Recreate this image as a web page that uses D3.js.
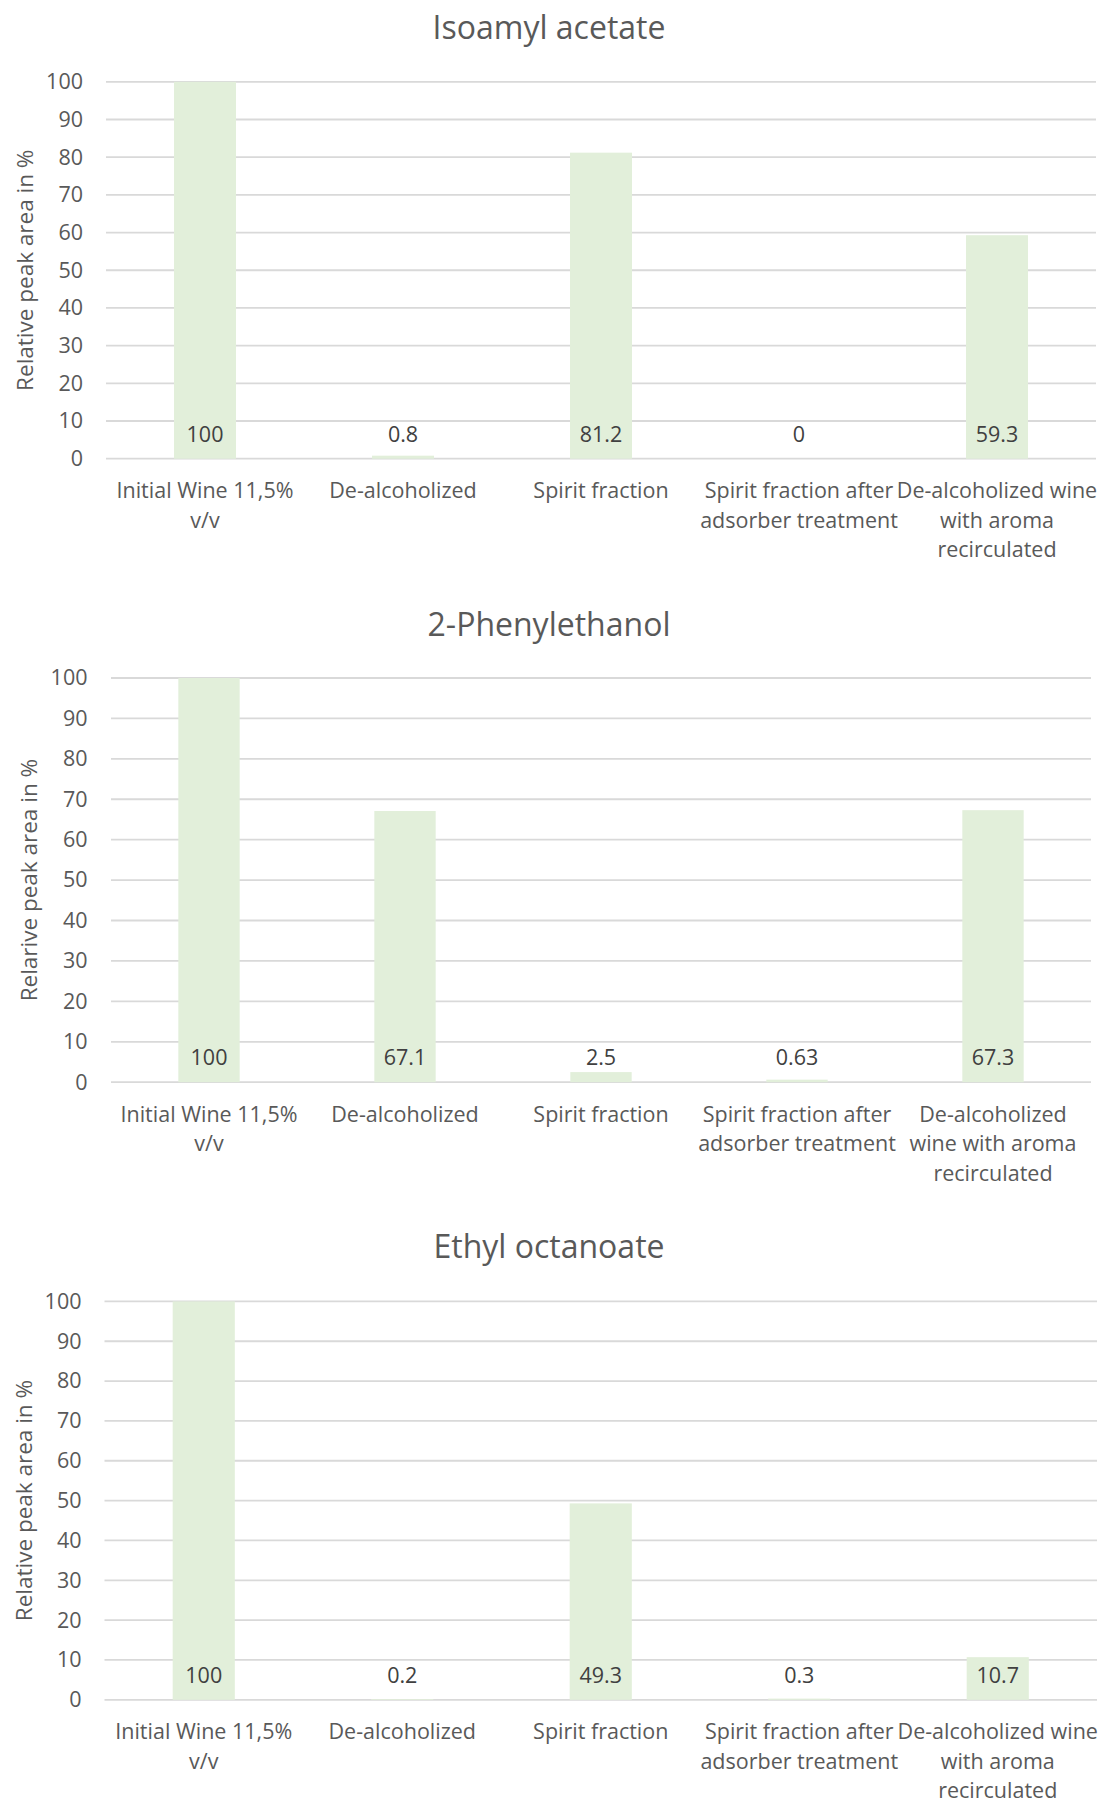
<!DOCTYPE html>
<html>
<head>
<meta charset="utf-8">
<script src="https://cdn.jsdelivr.net/npm/d3@7"></script>
<style>
  html, body { margin: 0; padding: 0; background: #fff; }
  svg { display: block; }
  text { font-family: "Open Sans", "Noto Sans", sans-serif; }
</style>
</head>
<body>
<svg id="fig" width="1099" height="1800"></svg>
<script>
// Sample categories (multi-line axis labels)
const categoryLinesA = [
  ["Initial Wine 11,5%", "v/v"],
  ["De-alcoholized"],
  ["Spirit fraction"],
  ["Spirit fraction after", "adsorber treatment"],
  ["De-alcoholized wine", "with aroma", "recirculated"]
];
const categoryLinesB = [
  ["Initial Wine 11,5%", "v/v"],
  ["De-alcoholized"],
  ["Spirit fraction"],
  ["Spirit fraction after", "adsorber treatment"],
  ["De-alcoholized", "wine with aroma", "recirculated"]
];

// Relative peak areas (%)
const isoamylAcetate = [100, 0.8, 81.2, 0, 59.3];
const phenylethanol = [100, 67.1, 2.5, 0.63, 67.3];
const ethylOctanoate = [100, 0.2, 49.3, 0.3, 10.7];

const titles = ["Isoamyl acetate", "2-Phenylethanol", "Ethyl octanoate"];
const yTitles = ["Relative peak area in %", "Relarive peak area in %", "Relative peak area in %"];
const yTicks = [0, 10, 20, 30, 40, 50, 60, 70, 80, 90, 100];

const panels = [
  { title: titles[0], yTitle: yTitles[0], values: isoamylAcetate, lines: categoryLinesA,
    left: 106, right: 1096, top: 81.8, bottom: 458.7, titleY: 38.8, yTitleX: 24.5, tickX: 83 },
  { title: titles[1], yTitle: yTitles[1], values: phenylethanol, lines: categoryLinesB,
    left: 111, right: 1091, top: 678, bottom: 1082.2, titleY: 636.4, yTitleX: 28, tickX: 87.5 },
  { title: titles[2], yTitle: yTitles[2], values: ethylOctanoate, lines: categoryLinesA,
    left: 104.5, right: 1097, top: 1301.4, bottom: 1699.8, titleY: 1258.1, yTitleX: 23, tickX: 81.5 }
];

const svg = d3.select("#fig");
const barColor = "#E2EFDA";
const gridColor = "#D9D9D9";
const axisText = "#595959";
const valueText = "#404040";
const labelSize = "21.5px";

panels.forEach(p => {
  const g = svg.append("g");
  const idx = d3.range(p.values.length);

  const x = d3.scaleBand()
    .domain(idx)
    .range([p.left, p.right])
    .paddingInner(0.687)
    .paddingOuter(0.3435);
  const y = d3.scaleLinear().domain([0, 100]).range([p.bottom, p.top]);

  // Title
  g.append("text")
    .attr("x", 549).attr("y", p.titleY)
    .attr("text-anchor", "middle")
    .attr("fill", axisText)
    .style("font-size", "32px")
    .text(p.title);

  // Gridlines
  g.append("g").selectAll("line").data(yTicks).join("line")
    .attr("x1", p.left).attr("x2", p.right)
    .attr("y1", d => y(d)).attr("y2", d => y(d))
    .attr("stroke", gridColor).attr("stroke-width", 1.8);

  // Y axis tick labels
  const yAxis = d3.axisLeft(y).tickValues(yTicks).tickSize(0).tickPadding(0);
  const ya = g.append("g").attr("transform", `translate(${p.tickX},0)`).call(yAxis);
  ya.select(".domain").remove();
  ya.selectAll("text")
    .attr("fill", axisText)
    .style("font-size", labelSize)
    .style("font-family", "'Open Sans', sans-serif");

  // Y axis title
  g.append("text")
    .attr("transform", `translate(${p.yTitleX},${(p.top + p.bottom) / 2}) rotate(-90)`)
    .attr("text-anchor", "middle")
    .attr("dominant-baseline", "central")
    .attr("fill", axisText)
    .style("font-size", "22.5px")
    .text(p.yTitle);

  // Bars
  g.append("g").selectAll("rect").data(idx).join("rect")
    .attr("x", i => x(i))
    .attr("width", x.bandwidth())
    .attr("y", i => y(p.values[i]))
    .attr("height", i => y(0) - y(p.values[i]))
    .attr("fill", barColor);

  // Value labels at the inside base of each bar
  g.append("g").selectAll("text").data(idx).join("text")
    .attr("x", i => x(i) + x.bandwidth() / 2)
    .attr("y", y(0) - 25.5)
    .attr("text-anchor", "middle")
    .attr("dominant-baseline", "central")
    .attr("fill", valueText)
    .style("font-size", labelSize)
    .text(i => String(p.values[i]));

  // Category labels
  const xl = g.append("g").selectAll("text").data(idx).join("text")
    .attr("text-anchor", "middle")
    .attr("fill", axisText)
    .style("font-size", labelSize);
  xl.each(function(i) {
    const t = d3.select(this);
    const cx = x(i) + x.bandwidth() / 2;
    p.lines[i].forEach((ln, k) => {
      t.append("tspan")
        .attr("x", cx)
        .attr("y", p.bottom + 31 + k * 29.5)
        .attr("dominant-baseline", "central")
        .text(ln);
    });
  });
});
</script>
</body>
</html>
